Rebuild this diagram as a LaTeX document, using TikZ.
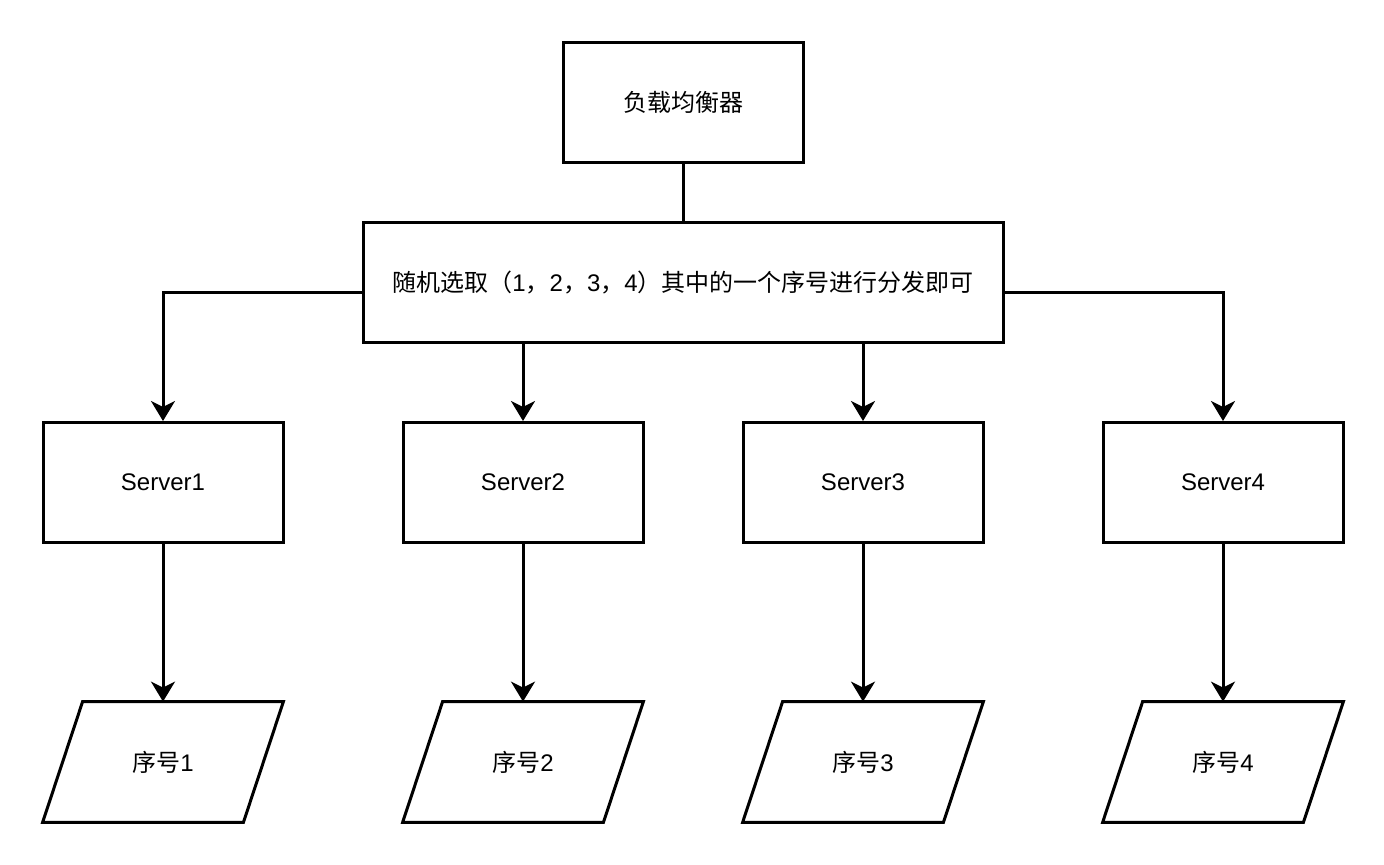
\documentclass[tikz,border=0pt]{standalone}
\usepackage{fontspec}
\setmainfont{Liberation Sans}
\newfontfamily\cjk{Noto Sans CJK SC}
\usetikzlibrary{arrows.meta}
\begin{document}
\begin{tikzpicture}[x=0.5pt,y=-0.5pt,
  every node/.style={font=\fontsize{12pt}{14pt}\selectfont},
  box/.style={draw,line width=1.5pt,minimum width=120pt,minimum height=60pt,inner sep=0pt},
  parabox/.style={minimum width=120pt,minimum height=60pt,inner sep=0pt},
  paraline/.style={line width=1.5pt,line join=miter},
  link/.style={line width=1.5pt},
  arr/.style={line width=1.5pt,-{Stealth[length=10pt,width=12pt,inset=3pt]}}]
\useasboundingbox (0,0) rectangle (1384,864);
\node[box] (top) at (683,102.5) {\cjk 负载均衡器};
\node[box,minimum width=320pt] (mid) at (683,282.5) {{\cjk 随机选取（}1{\cjk ，}2{\cjk ，}3{\cjk ，}4{\cjk ）其中的一个序号进行分发即可}};
\node[box] (s1) at (163,482.5) {Server1};
\node[box] (s2) at (523,482.5) {Server2};
\node[box] (s3) at (863,482.5) {Server3};
\node[box] (s4) at (1223,482.5) {Server4};
\node[parabox] (p1) at (163,762) {{\cjk 序号}1};
\node[parabox] (p2) at (523,762) {{\cjk 序号}2};
\node[parabox] (p3) at (863,762) {{\cjk 序号}3};
\node[parabox] (p4) at (1223,762) {{\cjk 序号}4};
\foreach \p in {p1,p2,p3,p4}
  \draw[paraline] ([xshift=20pt]\p.north west) -- (\p.north east) -- ([xshift=-20pt]\p.south east) -- (\p.south west) -- cycle;
\draw[link] (top.south) -- (mid.north);
\draw[arr] ([yshift=-5pt]mid.west) -| (s1.north);
\draw[arr] ([yshift=-5pt]mid.east) -| (s4.north);
\draw[arr] (mid.south -| s2.north) -- (s2.north);
\draw[arr] (mid.south -| s3.north) -- (s3.north);
\draw[arr] (s1.south) -- (p1.north);
\draw[arr] (s2.south) -- (p2.north);
\draw[arr] (s3.south) -- (p3.north);
\draw[arr] (s4.south) -- (p4.north);
\end{tikzpicture}
\end{document}
